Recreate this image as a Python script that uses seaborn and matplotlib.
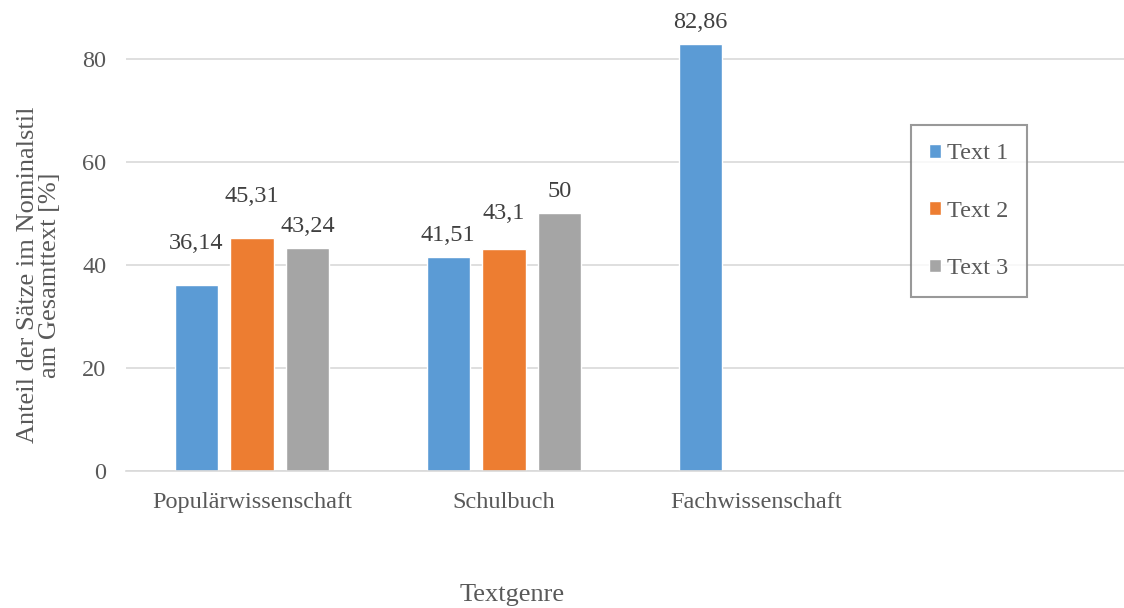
import numpy as np
import pandas as pd
import matplotlib
matplotlib.use('Agg')
import matplotlib.pyplot as plt
import seaborn as sns

# Daten aus dem Diagramm
kategorien = ['Populärwissenschaft', 'Schulbuch', 'Fachwissenschaft']
text_1 = [36.14, 41.51, 82.86]
text_2 = [45.31, 43.10, np.nan]
text_3 = [43.24, 50.00, np.nan]
serien = ['Text 1', 'Text 2', 'Text 3']
farben = ['#5B9BD5', '#ED7D31', '#A5A5A5']

# Excel schiebt einige Beschriftungen nach oben (zusätzlicher Abstand in pt)
extra_abstand = [[14, 0, 0], [14, 10, 0], [0, 0, 0]]

# Tabelle im langen Format für seaborn
df = pd.DataFrame({'genre': kategorien, 'Text 1': text_1, 'Text 2': text_2, 'Text 3': text_3})
df = df.melt(id_vars='genre', var_name='serie', value_name='anteil')

sns.set_style('white')
plt.rcParams['font.family'] = ['Liberation Serif', 'DejaVu Serif']
textfarbe = '#595959'
groesse = 17.5

fig = plt.figure(figsize=(11.24, 6.08), dpi=100)
ax = fig.add_axes([126 / 1124, (608 - 471) / 608, 1008 / 1124, (471 - 33) / 608])

sns.barplot(data=df, x='genre', y='anteil', hue='serie', order=kategorien,
            hue_order=serien, palette=farben, width=0.665, gap=0.23,
            saturation=1, ax=ax, legend=True)

# Werte über den Balken (deutsches Dezimalkomma)
for i, cont in enumerate(ax.containers):
    labels = []
    for v in cont.datavalues:
        if np.isnan(v):
            labels.append('')
        else:
            labels.append(('%g' % round(v, 2)).replace('.', ','))
    texte = ax.bar_label(cont, labels=labels, padding=8, fontsize=groesse, color='#404040')
    for j, t in enumerate(texte):
        t.xyann = (0, 8 + extra_abstand[i][j])

# Achsen
ax.set_ylim(0, 85)
ax.set_xlim(-0.5, 3.5)
ax.set_yticks([0, 20, 40, 60, 80])
ax.yaxis.grid(True, color='#D9D9D9', linewidth=1.2)
ax.set_axisbelow(True)
for s in ['top', 'right', 'left']:
    ax.spines[s].set_visible(False)
ax.spines['bottom'].set_color('#D9D9D9')
ax.spines['bottom'].set_linewidth(1.2)
ax.tick_params(axis='both', length=0, labelsize=groesse, labelcolor=textfarbe)
ax.tick_params(axis='x', pad=15)
ax.tick_params(axis='y', pad=14)

# Titel der Achsen
ax.set_ylabel('Anteil der Sätze im Nominalstil\nam Gesamttext [%]', fontsize=19,
              color=textfarbe, linespacing=1.0)
ax.yaxis.set_label_coords(-0.064, 0.447)
ax.set_xlabel('Textgenre', fontsize=19, color=textfarbe)
ax.xaxis.set_label_coords(0.383, -0.258)

# Legende
leg = ax.legend(loc='upper left', bbox_to_anchor=((911 - 126) / 1008, (471 - 125) / 438),
                fontsize=groesse, frameon=True, fancybox=False, labelspacing=1.5,
                handlelength=0.5, handleheight=0.5, handletextpad=0.25,
                borderpad=0.75, borderaxespad=0)
leg.get_frame().set_edgecolor('#808080')
leg.get_frame().set_linewidth(1.5)
for t in leg.get_texts():
    t.set_color(textfarbe)

fig.savefig('out.png', dpi=100)
